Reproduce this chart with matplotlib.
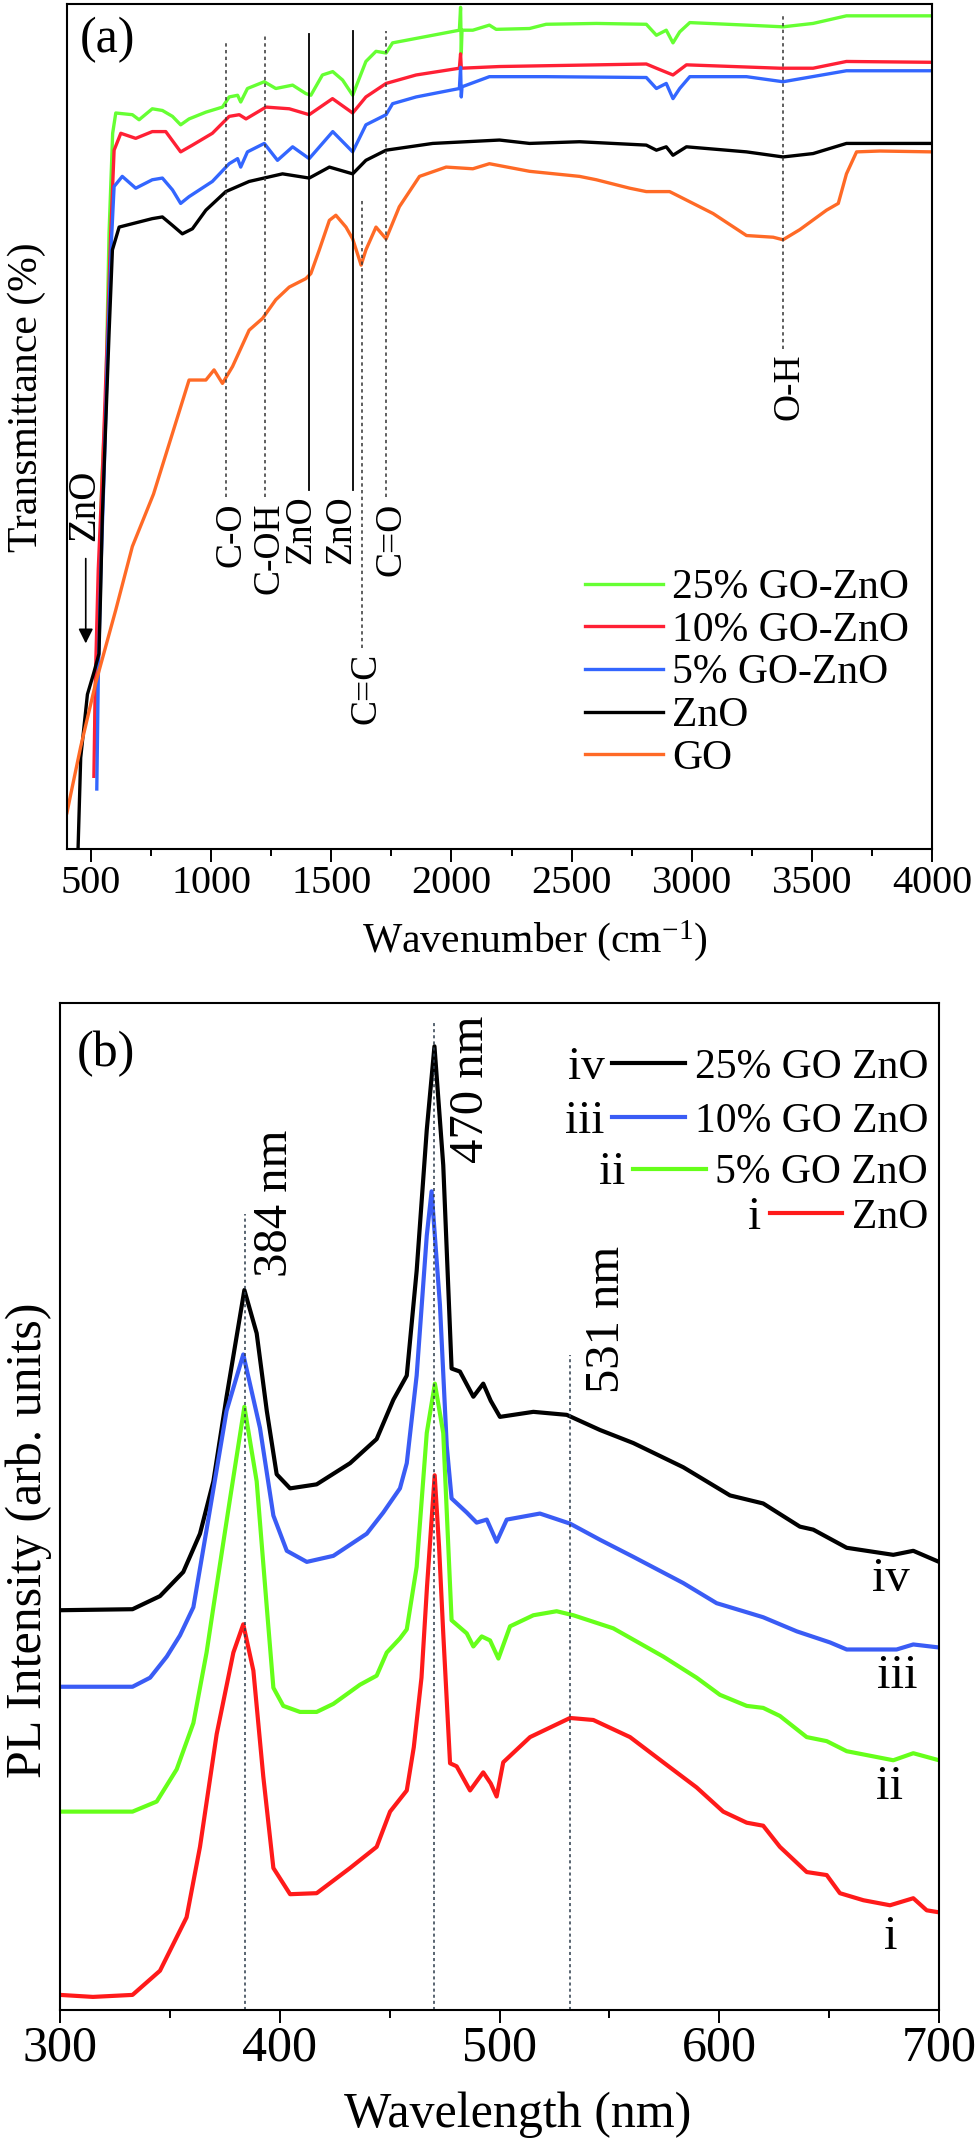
import numpy as np
import matplotlib
matplotlib.use('Agg')
import matplotlib.pyplot as plt
from matplotlib.ticker import MultipleLocator
from matplotlib.legend import Legend

plt.rcParams['font.family'] = ['Liberation Serif', 'DejaVu Serif']
plt.rcParams['mathtext.default'] = 'regular'

# ---------------- (a) FTIR spectra (transmittance, arb. offset) ----------------
wn_25 = [515, 522, 533, 545, 561, 575, 590, 603, 672, 700, 755, 797, 839, 873, 908, 978, 1047,
         1075, 1110, 1123, 1151, 1221, 1269, 1339, 1394, 1415, 1463, 1506, 1547, 1589, 1644,
         1686, 1728, 1755, 1922, 2033, 2038, 2041, 2044, 2089, 2158, 2186, 2325, 2394, 2603,
         2811, 2853, 2894, 2922, 2950, 2992, 3228, 3380, 3505, 3644, 3783, 4000]
t_25 = [14.3, 21, 30, 43.7, 53, 72.9, 84.7, 87.1, 86.9, 86.3, 87.6, 87.4, 86.7, 85.7, 86.4, 87.2,
        87.8, 89.0, 89.2, 88.4, 90.0, 90.8, 90.0, 90.4, 89.4, 89.2, 91.6, 92.0, 91.0, 89.2, 93.2,
        94.4, 94.2, 95.4, 96.3, 96.9, 99.6, 94.2, 96.9, 96.9, 97.5, 97.0, 97.1, 97.6, 97.7,
        97.6, 96.3, 96.9, 95.4, 96.7, 97.8, 97.5, 97.3, 97.7, 98.6, 98.6, 98.6]

wn_10 = [512, 518, 530, 548, 567, 582, 596, 624, 686, 755, 811, 873, 922, 1005, 1075, 1117, 1145,
         1228, 1325, 1408, 1505, 1589, 1644, 1728, 1853, 2033, 2038, 2041, 2200, 2811, 2853,
         2922, 2978, 3367, 3505, 3644, 4000]
t_10 = [8.6, 20, 33, 45, 60, 72.9, 82.7, 84.7, 84.1, 84.9, 84.9, 82.5, 83.3, 84.7, 86.7, 86.9,
        86.4, 87.8, 87.6, 86.9, 88.8, 87.1, 89.0, 90.6, 91.6, 92.4, 94.1, 92.4, 92.6, 92.9, 92.4,
        91.6, 92.8, 92.4, 92.4, 93.2, 93.1]

wn_5 = [524, 530, 540, 555, 570, 585, 596, 630, 686, 755, 797, 839, 873, 908, 1005, 1075, 1110,
        1123, 1151, 1221, 1276, 1339, 1408, 1506, 1589, 1644, 1728, 1755, 1853, 2033, 2038,
        2041, 2044, 2158, 2394, 2811, 2853, 2894, 2922, 2950, 2992, 3228, 3380, 3644, 4000]
t_5 = [7.1, 20, 32, 45, 60, 72, 78.4, 79.6, 78.2, 79.2, 79.4, 78.0, 76.4, 77.2, 79.0, 81.1, 81.7,
       80.7, 82.5, 83.5, 81.5, 83.1, 81.7, 84.9, 82.5, 85.7, 86.9, 88.2, 89.0, 90.0, 92.5,
       89.0, 90.2, 91.4, 91.4, 91.3, 90.0, 90.6, 88.8, 90.0, 91.4, 91.4, 90.8, 92.1, 92.1]

wn_zno = [440, 446, 457, 485, 512, 533, 540, 547, 575, 589, 617, 672, 755, 797, 839, 880, 922,
          978, 1061, 1158, 1297, 1408, 1492, 1589, 1644, 1728, 1922, 2061, 2200, 2325, 2533,
          2811, 2853, 2894, 2922, 2978, 3228, 3380, 3505, 3644, 4000]
t_zno = [-3, 0, 10.8, 18.3, 20.9, 23.1, 30.5, 39.3, 61, 70.9, 73.6, 74.0, 74.6, 74.8, 73.8, 72.8,
         73.4, 75.6, 77.8, 79.0, 79.9, 79.4, 80.7, 79.9, 81.5, 82.7, 83.5, 83.7, 83.9, 83.5, 83.7,
         83.3, 82.7, 83.1, 82.1, 83.1, 82.5, 81.9, 82.3, 83.5, 83.5]

wn_go = [400, 415, 457, 519, 603, 672, 760, 839, 908, 978, 1012, 1047, 1089, 1158, 1214, 1269,
         1325, 1394, 1415, 1450, 1492, 1519, 1561, 1589, 1624, 1644, 1686, 1728, 1783, 1867,
         1978, 2089, 2158, 2325, 2533, 2603, 2742, 2811, 2908, 2950, 3089, 3228, 3339, 3380,
         3450, 3561, 3610, 3644, 3686, 3783, 4000]
t_go = [4.3, 6.4, 12.1, 19.6, 28.3, 35.8, 42.0, 49.2, 55.5, 55.5, 56.7, 55.1, 57.1, 61.4, 62.8,
        65.0, 66.5, 67.5, 68.1, 70.9, 74.4, 75.0, 73.6, 72.2, 69.1, 70.9, 73.6, 72.2, 76.0, 79.6,
        80.7, 80.5, 81.1, 80.2, 79.6, 79.2, 78.2, 77.8, 77.8, 77.2, 75.2, 72.6, 72.4, 72.1,
        73.3, 75.6, 76.4, 79.9, 82.5, 82.6, 82.5]

# band markers in (a)
band_pos = [1061, 1223, 1408, 1589, 1626, 1728, 3378]
band_top = [95.4, 96.5, 96.4, 96.8, 76.8, 96.8, 98.9]
band_bot = [41.6, 41.6, 42.5, 42.5, 23.8, 41.6, 59.2]
band_solid = [False, False, True, True, False, False, False]
band_label = ['C-O', 'C-OH', 'ZnO', 'ZnO', 'C=C', 'C=O', 'O-H']
band_label_x = [1083, 1242, 1375, 1542, 1646, 1750, 3404]

# ---------------- (b) PL spectra ----------------
wl_i = [300, 315, 333, 345.5, 357.6, 363.7, 371.3, 378.9, 383.4, 388, 392.5, 397.1, 404.7, 416.8,
        432, 444.1, 450.2, 457.8, 461, 464.5, 467, 470.5, 472.5, 474.4, 477.5, 480.5, 486.6,
        492.6, 496, 498.7, 501.7, 513.9, 532.1, 542.7, 559.4, 574.5, 589.7, 601.8, 612.5, 620,
        627.6, 639.8, 648.9, 654.9, 665.6, 677.7, 688.3, 694.4, 700]
pl_i = [1.5, 1.3, 1.5, 3.9, 9.2, 16.2, 27.4, 35.5, 38.3, 33.7, 23.2, 14.1, 11.5, 11.6,
        14.1, 16.2, 19.7, 21.8, 26.1, 33, 42, 53.1, 46, 37.4, 24.5, 24.2, 21.8,
        23.6, 22.5, 21.2, 24.6, 27.1, 29.0, 28.8, 27.1, 24.6, 22.1, 19.7, 18.6, 18.3,
        16.2, 13.7, 13.4, 11.6, 10.9, 10.4, 11.1, 9.9, 9.7]

wl_ii = [300, 333, 344, 353.1, 360.7, 366.7, 369.8, 377.4, 383.9, 389.5, 394.1, 397.1, 401.6,
         409.2, 416.8, 424.4, 436.5, 444.1, 448.7, 454.7, 457.8, 462.3, 466.9, 470.6, 474.4,
         478.2, 485.1, 488.1, 491.9, 495.7, 499.5, 504.8, 515.4, 526, 533.6, 551.8, 574.5,
         589.7, 600.3, 612.5, 620, 627.6, 639.8, 648.9, 658, 679.2, 688.3, 700]
pl_ii = [19.7, 19.7, 20.7, 23.9, 28.5, 35.5, 40.0, 50.8, 59.9, 52.5, 40.0, 32.0, 30.2,
         29.6, 29.6, 30.4, 32.3, 33.2, 35.5, 36.9, 37.8, 44.0, 57.3, 62.2, 57.3,
         38.7, 37.4, 36.1, 37.1, 36.7, 34.9, 38.1, 39.2, 39.6, 39.2, 37.9, 35.1,
         33.0, 31.3, 30.2, 30.0, 29.2, 27.1, 26.7, 25.7, 24.8, 25.5, 24.8]

wl_iii = [300, 333, 341, 348.6, 354.6, 360.7, 366.7, 375.8, 383.4, 391, 397.1, 403.2, 412.3,
          424.4, 439.6, 447.1, 454.7, 457.8, 462.3, 466.9, 469.1, 472.9, 476, 478.2, 485.1,
          489.6, 494.2, 498.7, 503.3, 518.4, 532.1, 545.7, 560.9, 583.6, 598.8, 614, 620,
          635.3, 650.4, 658, 680.7, 688.3, 700]
pl_iii = [32.1, 32.1, 33.0, 35.1, 37.2, 40.0, 47.7, 59.5, 65.1, 57.8, 49.1, 45.6, 44.5,
          45.1, 47.3, 49.4, 51.8, 54.3, 63.0, 76.9, 81.3, 70.0, 56.0, 50.8, 49.4,
          48.4, 48.7, 46.5, 48.7, 49.3, 48.3, 46.7, 45.0, 42.4, 40.4, 39.4, 39.0,
          37.6, 36.5, 35.8, 35.8, 36.3, 36.0]

wl_iv = [300, 333, 345.5, 356.1, 363.7, 369.8, 375.8, 383.9, 389.5, 394.1, 398.6, 404.7, 416.8,
         432, 444.1, 451.7, 457.8, 462.3, 466.9, 470.4, 474.4, 478.2, 482, 488.1, 492.6, 496,
         500.2, 515.4, 530.6, 545.7, 560.9, 583.6, 604.9, 620, 636.7, 642.8, 658, 679.2,
         688.3, 700]
pl_iv = [39.7, 39.8, 41.1, 43.5, 47.3, 52.5, 60.9, 71.5, 67.2, 59.5, 53.2, 51.8, 52.2,
         54.3, 56.7, 60.6, 63.0, 73.4, 87.4, 95.7, 83.9, 63.7, 63.4, 60.9, 62.2, 60.5,
         58.9, 59.4, 59.1, 57.6, 56.3, 53.9, 51.1, 50.3, 48.0, 47.7, 45.9, 45.2,
         45.6, 44.5]

peak_nm = [384, 470, 532]
peak_top = [79.0, 98.0, 65.0]
peak_text = ['384 nm', '470 nm', '531 nm']
peak_text_x = [397.8, 487.0, 549.0]
peak_text_y = [72.8, 84.1, 61.3]

fig = plt.figure(figsize=(9.8, 21.53), dpi=100)
ax1 = fig.add_axes([67 / 980, 1 - 849 / 2153, 865 / 980, 845 / 2153])
ax2 = fig.add_axes([60 / 980, 1 - 2010 / 2153, 879 / 980, 1007 / 2153])

# ---------- panel (a) ----------
lw_a = 2.4
l25, = ax1.plot(wn_25, t_25, color='#66ff33', lw=lw_a, label='25% GO-ZnO')
l10, = ax1.plot(wn_10, t_10, color='#ff2035', lw=lw_a, label='10% GO-ZnO')
l5, = ax1.plot(wn_5, t_5, color='#3366ff', lw=lw_a, label='5% GO-ZnO')
lz, = ax1.plot(wn_zno, t_zno, color='black', lw=lw_a, label='ZnO')
lg, = ax1.plot(wn_go, t_go, color='#ff6a26', lw=lw_a, label='GO')

for x, top, bot, solid, lab, lx in zip(band_pos, band_top, band_bot, band_solid,
                                        band_label, band_label_x):
    if solid:
        ax1.plot([x, x], [bot, top], color='black', lw=1.3)
    else:
        ax1.plot([x, x], [bot, top], color='#333333', lw=1.1, linestyle=(0, (2.2, 2.2)))
    ax1.text(lx, bot - 0.6, lab, rotation=90, ha='center', va='top', fontsize=27)

ax1.annotate('', xy=(478, 24.0), xytext=(478, 34.7),
             arrowprops=dict(arrowstyle='-|>', color='black', lw=1.2, mutation_scale=22))
ax1.text(475, 36.5, 'ZnO', rotation=90, ha='center', va='bottom', fontsize=28)

ax1.set_xlim(400, 4000)
ax1.set_ylim(0, 100)
ax1.set_yticks([])
ax1.xaxis.set_major_locator(MultipleLocator(500))
ax1.xaxis.set_minor_locator(MultipleLocator(250))
ax1.tick_params(axis='x', which='major', direction='out', length=9.5, width=1.4,
                labelsize=29, pad=2)
ax1.tick_params(axis='x', which='minor', direction='out', length=5.3, width=1.4)
for s in ax1.spines.values():
    s.set_linewidth(1.5)
ax1.set_xlabel('Wavenumber (cm$^{-1}$)', fontsize=30)
ax1.xaxis.set_label_coords(0.541, -0.082)
ax1.set_ylabel('Transmittance (%)', fontsize=30)
ax1.yaxis.set_label_coords(-0.024, 0.535)
ax1.text(0.015, 0.985, '(a)', transform=ax1.transAxes, ha='left', va='top', fontsize=36)

leg1 = ax1.legend(handles=[l25, l10, l5, lz, lg], loc='center left',
                  bbox_to_anchor=(0.599, 0.208), frameon=False, fontsize=30,
                  handlelength=1.87, handletextpad=0.22, labelspacing=0.1,
                  borderpad=0, borderaxespad=0)

# ---------- panel (b) ----------
lw_b = 3.0
liv, = ax2.plot(wl_iv, pl_iv, color='black', lw=lw_b)
liii, = ax2.plot(wl_iii, pl_iii, color='#3a5cf5', lw=lw_b)
lii, = ax2.plot(wl_ii, pl_ii, color='#66ff1a', lw=lw_b)
li, = ax2.plot(wl_i, pl_i, color='#ff1a1a', lw=lw_b)

for x, top, txt, tx, ty in zip(peak_nm, peak_top, peak_text, peak_text_x, peak_text_y):
    ax2.plot([x, x], [0, top], color='#2b3a4a', lw=1.1, linestyle=(0, (2, 2)))
    ax2.text(tx, ty, txt, rotation=90, ha='center', va='bottom', fontsize=35)

curve_tags = ['iv', 'iii', 'ii', 'i']
tag_x = [678, 681, 677.7, 678]
tag_y = [42.8, 33.2, 22.1, 7.2]
for t, x, y in zip(curve_tags, tag_x, tag_y):
    ax2.text(x, y, t, ha='center', va='center', fontsize=35)

ax2.set_xlim(300, 700)
ax2.set_ylim(0, 100)
ax2.set_yticks([])
ax2.xaxis.set_major_locator(MultipleLocator(100))
ax2.xaxis.set_minor_locator(MultipleLocator(50))
ax2.tick_params(axis='x', which='major', direction='out', length=9.5, width=1.4,
                labelsize=36, pad=1)
ax2.tick_params(axis='x', which='minor', direction='out', length=5.8, width=1.4)
for s in ax2.spines.values():
    s.set_linewidth(1.5)
ax2.set_xlabel('Wavelength (nm)', fontsize=36)
ax2.xaxis.set_label_coords(0.521, -0.081)
ax2.set_ylabel('PL Intensity (arb. units)', fontsize=36)
ax2.yaxis.set_label_coords(-0.009, 0.466)
ax2.text(0.019, 0.973, '(b)', transform=ax2.transAxes, ha='left', va='top', fontsize=36)

leg_rows = [(liv, '25% GO ZnO', 'iv'), (liii, '10% GO ZnO', 'iii'),
            (lii, '5% GO ZnO', 'ii'), (li, 'ZnO', 'i')]
leg_y = [0.936, 0.882, 0.831, 0.787]
legs = []
for (ln, lab, num), yy in zip(leg_rows, leg_y):
    lg_b = Legend(ax2, [ln], [lab], loc='center right', bbox_to_anchor=(0.9875, yy),
                  frameon=False, fontsize=30, handlelength=1.75, handletextpad=0.22,
                  borderpad=0, borderaxespad=0)
    ax2.add_artist(lg_b)
    legs.append((lg_b, num, yy))

fig.canvas.draw()
inv = ax2.transAxes.inverted()
for lg_b, num, yy in legs:
    bb = lg_b.get_window_extent()
    xa = inv.transform((bb.x0 - 8, 0))[0]
    ax2.text(xa, yy, num, ha='right', va='center', fontsize=34, transform=ax2.transAxes)

fig.savefig('out.png', dpi=100)
